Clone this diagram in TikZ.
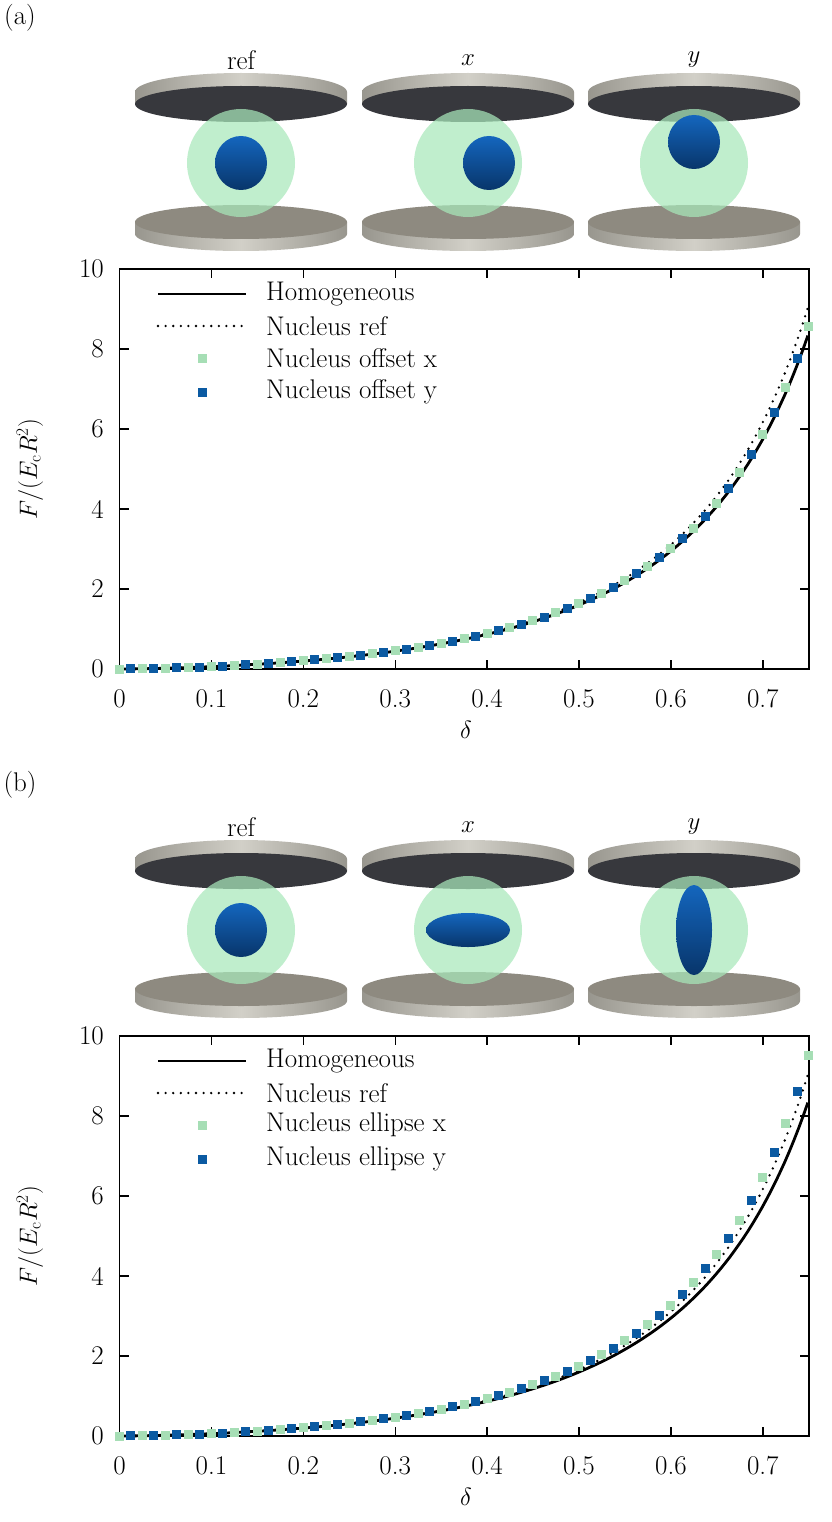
\documentclass[tikz,border=0pt]{standalone}
\definecolor{lgreen}{HTML}{A6DEB5}
\definecolor{mblue}{HTML}{0B5AA2}
\definecolor{sgreen}{HTML}{A8E8BA}
\definecolor{dskdark}{HTML}{37383D}
\definecolor{dskface}{HTML}{8E8A80}
\definecolor{dskl}{HTML}{D2D0C8}
\definecolor{dskd}{HTML}{98968E}
\definecolor{nbtop}{HTML}{1466BE}
\definecolor{nbbot}{HTML}{08356A}
\pgfmathdeclarefunction{hom}{1}{\pgfmathparse{1.583*pow(max(#1,0.00001),1.5)/pow(1-#1,1.515)}}
\tikzset{
  txt/.style={font=\fontsize{27}{31}\selectfont, inner sep=0pt},
  frame/.style={line width=1.3pt},
  hline/.style={line width=2.8pt},
  dline/.style={line width=2.6pt, dash pattern=on 0pt off 7.6pt, line cap=round},
  gm/.style={fill=lgreen},
  bm/.style={fill=mblue},
}
\newcommand\cellpic[6]{% cx, oy, nucleus dx, dy, rx, ry
  \shade[left color=dskd,right color=dskd,middle color=dskl] (#1-106,#2+92) arc[start angle=180,end angle=360,x radius=106,y radius=19] -- (#1+106,#2+104) -- (#1-106,#2+104) -- cycle;
  \fill[dskdark] (#1,#2+104) ellipse[x radius=106,y radius=18];
  \shade[left color=dskd,right color=dskd,middle color=dskl] (#1-106,#2+222) -- (#1-106,#2+234) arc[start angle=180,end angle=0,x radius=106,y radius=17] -- (#1+106,#2+222) -- cycle;
  \fill[dskface] (#1,#2+222) ellipse[x radius=106,y radius=17];
  \fill[sgreen,fill opacity=0.72] (#1,#2+163) circle[radius=54];
  \shade[top color=nbtop,bottom color=nbbot] (#1+#3,#2+163+#4) ellipse[x radius=#5,y radius=#6];
}
\newcommand\plotpanel[4]{% oy, factor expr, legend x text, legend y text
  \draw[frame] (119.5,#1+269) rectangle (809,#1+669);
  \foreach \t in {0,0.1,...,0.71} {
    \draw[frame] ({119.5+919*\t},#1+669) -- ++(0,-9);
    \draw[frame] ({119.5+919*\t},#1+269) -- ++(0,9);
  }
  \foreach \v in {0,2,...,10} {
    \draw[frame] (119.5,{#1+669-40*\v}) -- ++(9,0);
    \draw[frame] (809,{#1+669-40*\v}) -- ++(-9,0);
    \node[txt,anchor=east] (yt\v-#1) at (104,{#1+669-40*\v}) {\v};
  }
  \foreach \t/\l in {0/0,0.1/0.1,0.2/0.2,0.3/0.3,0.4/0.4,0.5/0.5,0.6/0.6,0.7/0.7} {
    \node[txt] (xt\l-#1) at ({119.5+919*\t},#1+699) {\l};
  }
  \node[txt] (dl-#1) at (466,#1+730) {$\delta$};
  \node[txt,rotate=90] (fl-#1) at (30,#1+469) {$F/(E_{\mathrm{c}}R^2)$};
  \draw[hline] plot[domain=0.001:0.75,samples=150] ({119.5+919*\x},{#1+669-40*hom(\x)});
  \draw[dline] plot[domain=0.001:0.75,samples=150] ({119.5+919*\x},{#1+669-40*hom(\x)*(1+0.15*\x*\x)});
  \foreach \i in {0,...,30} {
    \pgfmathsetmacro\dd{0.025*\i}
    \pgfmathsetmacro\ff{hom(\dd)*(#2)}
    \fill[gm] ({119.5+919*\dd-4.5},{#1+669-40*\ff-4.5}) rectangle ++(9,9);
  }
  \foreach \i in {0,...,29} {
    \pgfmathsetmacro\dd{0.0125+0.025*\i}
    \pgfmathsetmacro\ff{hom(\dd)*(#2)}
    \fill[bm] ({119.5+919*\dd-4.5},{#1+669-40*\ff-4.5}) rectangle ++(9,9);
  }
  \draw[hline] (158,#1+294) -- (246,#1+294);
  \draw[dline] (158,#1+326) -- (246,#1+326);
  \fill[gm] (197.5,#1+353.5) rectangle ++(9,9);
  \fill[bm] (197.5,#1+387.5) rectangle ++(9,9);
  \node[txt,anchor=west] (lg1-#1) at (266,#1+294) {Homogeneous};
  \node[txt,anchor=west] (lg2-#1) at (266,#1+326) {Nucleus ref};
  \node[txt,anchor=west] (lg3-#1) at (266,#1+358) {#3};
  \node[txt,anchor=west] (lg4-#1) at (266,#1+392) {#4};
}
\begin{document}
\begin{tikzpicture}[x=1pt,y=-1pt]
\useasboundingbox (0,0) rectangle (831,1522);
\fill[white] (0,0) rectangle (831,1522);
% (a)
\node[txt] (pa) at (20,18) {(a)};
\cellpic{241}{0}{0}{0}{26}{27}
\cellpic{468}{0}{21}{0}{26}{27}
\cellpic{694}{0}{0}{-21}{26}{27}
\node[txt] (la1) at (241,60) {ref};
\node[txt] (la2) at (468,60) {$x$};
\node[txt] (la3) at (694,60) {$y$};
\plotpanel{0}{1.02}{Nucleus offset x}{Nucleus offset y}
% (b)
\node[txt] (pb) at (20,785) {(b)};
\cellpic{241}{767}{0}{0}{26}{27}
\cellpic{468}{767}{0}{0}{42}{17}
\cellpic{694}{767}{0}{0}{18}{45}
\node[txt] (lb1) at (241,827) {ref};
\node[txt] (lb2) at (468,827) {$x$};
\node[txt] (lb3) at (694,827) {$y$};
\plotpanel{767}{1+0.18*\dd}{Nucleus ellipse x}{Nucleus ellipse y}
\end{tikzpicture}
\end{document}
